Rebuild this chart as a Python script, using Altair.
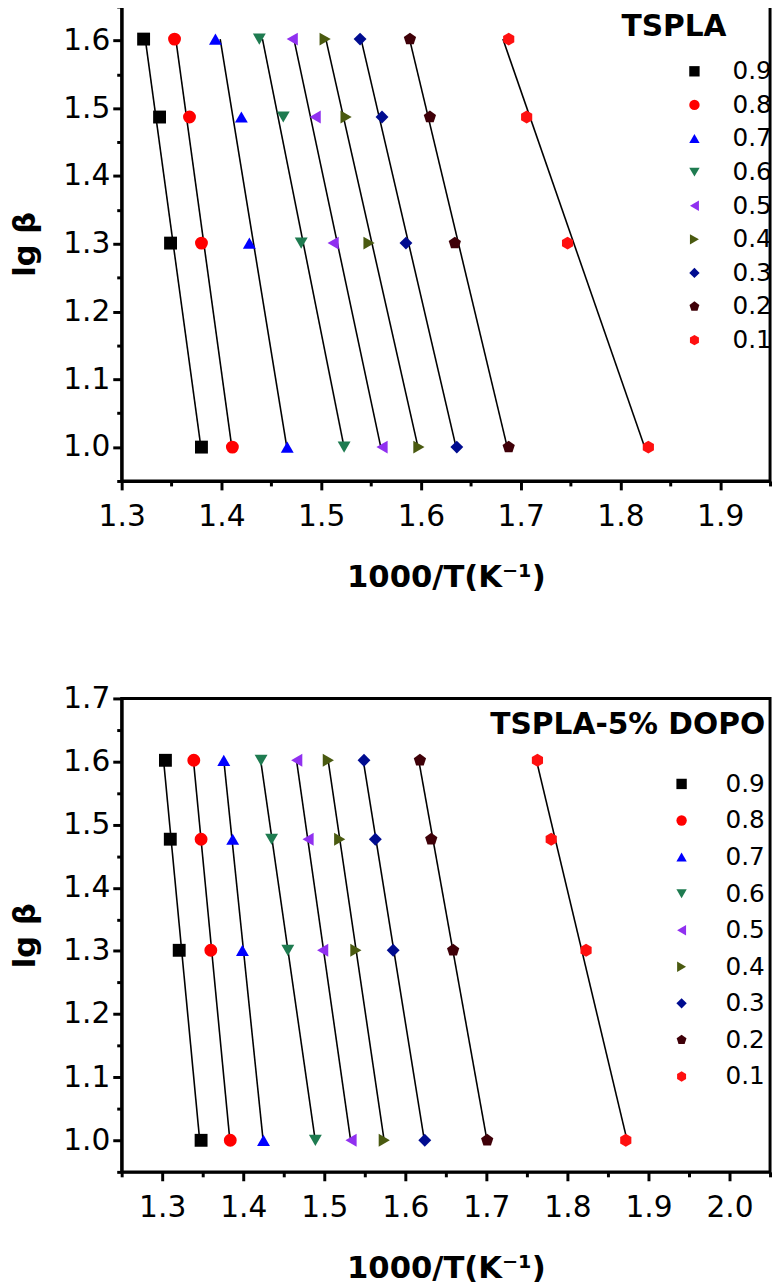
import altair as alt
import pandas as pd

alphas = ["0.9", "0.8", "0.7", "0.6", "0.5", "0.4", "0.3", "0.2", "0.1"]
colors = ["#000000", "#FF0000", "#0000FF", "#1E7B50", "#9030F0", "#4A5A10", "#000C90", "#3F0008", "#FF1010"]
pentagon = "M0,-1L0.951,-0.309L0.588,0.809L-0.588,0.809L-0.951,-0.309Z"
hexagon = "M0,-1L0.866,-0.5L0.866,0.5L0,1L-0.866,0.5L-0.866,-0.5Z"
shapes = ["square", "circle", "triangle-up", "triangle-down", "triangle-left",
          "triangle-right", "diamond", pentagon, hexagon]

# TSPLA: lg(beta) levels and 1000/T values per conversion
lgb_top = [1.000, 1.301, 1.487, 1.602]
x_top = {
    "0.9": [1.380, 1.349, 1.338, 1.322],
    "0.8": [1.411, 1.380, 1.368, 1.353],
    "0.7": [1.466, 1.428, 1.420, 1.394],
    "0.6": [1.523, 1.480, 1.462, 1.438],
    "0.5": [1.561, 1.512, 1.494, 1.471],
    "0.4": [1.598, 1.548, 1.525, 1.504],
    "0.3": [1.636, 1.585, 1.561, 1.539],
    "0.2": [1.688, 1.634, 1.609, 1.589],
    "0.1": [1.828, 1.747, 1.706, 1.688],
}

# TSPLA-5% DOPO
lgb_bot = [1.000, 1.301, 1.477, 1.602]
x_bot = {
    "0.9": [1.348, 1.321, 1.310, 1.304],
    "0.8": [1.384, 1.360, 1.348, 1.339],
    "0.7": [1.425, 1.399, 1.387, 1.376],
    "0.6": [1.489, 1.455, 1.435, 1.422],
    "0.5": [1.533, 1.498, 1.480, 1.466],
    "0.4": [1.574, 1.539, 1.519, 1.505],
    "0.3": [1.624, 1.585, 1.563, 1.549],
    "0.2": [1.701, 1.659, 1.632, 1.618],
    "0.1": [1.872, 1.823, 1.780, 1.763],
}

x_major_top = [1.3, 1.4, 1.5, 1.6, 1.7, 1.8, 1.9]
x_minor_top = [1.35, 1.45, 1.55, 1.65, 1.75, 1.85, 1.95]
x_major_bot = [1.3, 1.4, 1.5, 1.6, 1.7, 1.8, 1.9, 2.0]
x_minor_bot = [1.25, 1.35, 1.45, 1.55, 1.65, 1.75, 1.85, 1.95, 2.05]
y_major_top = [1.0, 1.1, 1.2, 1.3, 1.4, 1.5, 1.6]
y_minor_top = [0.95, 1.05, 1.15, 1.25, 1.35, 1.45, 1.55, 1.65]
y_major_bot = [1.0, 1.1, 1.2, 1.3, 1.4, 1.5, 1.6, 1.7]
y_minor_bot = [0.95, 1.05, 1.15, 1.25, 1.35, 1.45, 1.55, 1.65]

FONT = "DejaVu Sans"


def frame(xs, lgb):
    rows = []
    for a in alphas:
        for xv, yv in zip(xs[a], lgb):
            rows.append({"alpha": a, "x": xv, "lgb": yv})
    return pd.DataFrame(rows)


def panel(df, title, xdom, xmaj, xmin, ydom, ymaj, ymin, height,
          lx, ly, row_pad, lab_off, t_anchor, t_pad):
    xs = alt.Scale(domain=xdom, nice=False, zero=False)
    ys = alt.Scale(domain=ydom, nice=False, zero=False)
    lines = alt.Chart(df).transform_regression(
        "lgb", "x", groupby=["alpha"]
    ).mark_line(color="black", strokeWidth=1.6).encode(
        x=alt.X("x:Q", scale=xs, axis=None),
        y=alt.Y("lgb:Q", scale=ys, axis=None),
        detail="alpha:N",
    )
    legend = alt.Legend(
        title=title, orient="none", legendX=lx, legendY=ly,
        titleFont=FONT, titleFontSize=30, titleFontWeight="bold", titleColor="black",
        titleAnchor=t_anchor, titleAlign="right", titlePadding=t_pad, titleLimit=600,
        labelFont=FONT, labelFontSize=25, labelColor="black", labelOffset=lab_off,
        symbolSize=110, symbolStrokeWidth=0, rowPadding=row_pad, padding=0,
    )
    pts = alt.Chart(df).mark_point(filled=True, size=170, opacity=1, strokeWidth=0).encode(
        x=alt.X("x:Q", scale=xs,
                axis=alt.Axis(values=xmaj, format=".1f", tickSize=9, orient="bottom",
                              title="1000/T(K⁻¹)", titlePadding=32, labelPadding=12)),
        y=alt.Y("lgb:Q", scale=ys,
                axis=alt.Axis(values=ymaj, format=".1f", tickSize=9, orient="left",
                              title="lg β", titlePadding=21, labelPadding=3)),
        color=alt.Color("alpha:N", sort=alphas, scale=alt.Scale(domain=alphas, range=colors), legend=legend),
        shape=alt.Shape("alpha:N", sort=alphas, scale=alt.Scale(domain=alphas, range=shapes), legend=legend),
    )
    minor = alt.Chart(df).mark_point(opacity=0).encode(
        x=alt.X("x:Q", scale=xs,
                axis=alt.Axis(values=xmin, labels=False, tickSize=5, domain=False, title=None, orient="bottom")),
        y=alt.Y("lgb:Q", scale=ys,
                axis=alt.Axis(values=ymin, labels=False, tickSize=5, domain=False, title=None, orient="left")),
    )
    return alt.layer(lines, pts, minor).resolve_axis(x="independent", y="independent").properties(
        width=656, height=height)


top = panel(frame(x_top, lgb_top), "TSPLA", [1.3, 1.95], x_major_top, x_minor_top,
            [0.95, 1.65], y_major_top, y_minor_top,
            480, 506, 6, 8, 26, "middle", 17)
bot = panel(frame(x_bot, lgb_bot), "TSPLA-5% DOPO", [1.25, 2.05], x_major_bot, x_minor_bot,
            [0.95, 1.7], y_major_bot, y_minor_bot,
            479, 373, 12, 11, 32, "end", 32)

chart = alt.vconcat(top, bot, spacing=88).resolve_scale(
    color="independent", shape="independent"
).properties(
    padding={"left": 0, "top": -12, "right": 0, "bottom": 0}
).configure(font=FONT).configure_view(
    stroke="black", strokeWidth=3
).configure_axis(
    labelFont=FONT, titleFont=FONT,
    labelFontSize=30, titleFontSize=31, titleFontWeight="bold",
    labelColor="black", titleColor="black",
    domainColor="black", domainWidth=3, tickColor="black", tickWidth=3,
    grid=False, labelOverlap=False, labelFlush=False,
)

chart.save("out.html", embed_options={"renderer": "svg", "actions": False})
